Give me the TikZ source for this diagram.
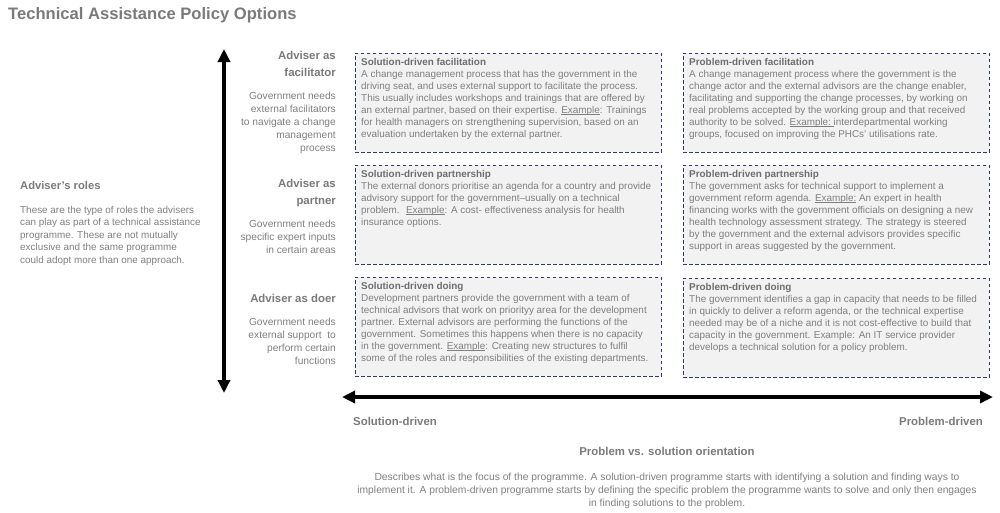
\documentclass[tikz,border=0pt]{standalone}
\usepackage{fontspec}
\setmainfont{Liberation Sans}
\usetikzlibrary{arrows.meta}
\definecolor{txt}{HTML}{7F7F7F}
\definecolor{head}{HTML}{6E6E6E}
\definecolor{title}{HTML}{7A7A7A}
\definecolor{boxfill}{HTML}{F2F2F2}
\definecolor{boxline}{HTML}{2F3C68}
\newcommand{\ul}[1]{\leavevmode\setbox0\hbox{#1}\rlap{\rule[-1.4pt]{\wd0}{0.5pt}}\box0\relax}
\begin{document}
\begin{tikzpicture}[x=1pt,y=-1pt,
  cell/.style={draw=boxline, dash pattern=on 3.5pt off 2.5pt, line width=0.9pt, fill=boxfill,
    minimum width=306pt, minimum height=99pt, inner sep=0pt, anchor=north west},
  celltext/.style={anchor=north west, align=left, inner sep=0pt, text=txt,
    font=\fontsize{9.9}{12}\selectfont},
  rolehead/.style={anchor=north east, align=right, inner sep=0pt, text=title,
    font=\fontsize{11.4}{17}\selectfont\bfseries},
  roletext/.style={anchor=north east, align=right, inner sep=0pt, text=txt,
    font=\fontsize{10.2}{13}\selectfont},
  bigarrow/.style={line width=3.5pt, {Triangle[length=13pt,width=12pt]}-{Triangle[length=13pt,width=12pt]}}
]
\useasboundingbox (0,0) rectangle (1000,512);

% title
\node[anchor=west, inner sep=0pt, text=title, font=\fontsize{16.6}{19}\selectfont\bfseries] (title) at (8,15) {Technical Assistance Policy Options};

% arrows
\coordinate (vtop) at (224,49);
\coordinate (vbot) at (224,393);
\draw[bigarrow] (vtop) -- (vbot);
\coordinate (hl) at (342,397);
\coordinate (hr) at (993,397);
\draw[bigarrow] (hl) -- (hr);

% left legend
\node[anchor=west, inner sep=0pt, text=title, font=\fontsize{11.2}{13}\selectfont\bfseries] (roles) at (20,185) {Adviser's roles};
\node[anchor=north west, align=left, inner sep=0pt, text=txt, font=\fontsize{9.9}{12.5}\selectfont] (rolesdesc) at (20,206)
{These are the type of roles the advisers\\can play as part of a technical assistance\\programme. These are not mutually\\exclusive and the same programme\\could adopt more than one approach.};

% role labels
\node[rolehead] (r1) at (336,51) {Adviser as\\facilitator};
\node[roletext] (r1t) at (336,92) {Government needs\\external facilitators\\to navigate a change\\management\\process};
\node[rolehead] (r2) at (336,179) {Adviser as\\partner};
\node[roletext] (r2t) at (336,220) {Government needs\\specific expert inputs\\in certain areas};
\node[rolehead] (r3) at (336,294) {Adviser as doer};
\node[roletext] (r3t) at (336,318) {Government needs\\external support~ to\\perform certain\\functions};

% cells
\node[cell] (b1) at (355,53) {};
\node[celltext] (t1) at ([xshift=6pt,yshift=-5pt]b1.north west)
{{\bfseries\color{head}Solution-driven facilitation}\\
A change management process that has the government in the\\
driving seat, and uses external support to facilitate the process.\\
This usually includes workshops and trainings that are offered by\\
an external partner, based on their expertise. \ul{Example}: Trainings\\
for health managers on strengthening supervision, based on an\\
evaluation undertaken by the external partner.};

\node[cell] (b2) at (683,53) {};
\node[celltext] (t2) at ([xshift=6pt,yshift=-5pt]b2.north west)
{{\bfseries\color{head}Problem-driven facilitation}\\
A change management process where the government is the\\
change actor and the external advisors are the change enabler,\\
facilitating and supporting the change processes, by working on\\
real problems accepted by the working group and that received\\
authority to be solved. \ul{Example:\ }interdepartmental working\\
groups, focused on improving the PHCs' utilisations rate.};

\node[cell] (b3) at (355,165) {};
\node[celltext] (t3) at ([xshift=6pt,yshift=-5pt]b3.north west)
{{\bfseries\color{head}Solution-driven partnership}\\
The external donors prioritise an agenda for a country and provide\\
advisory support for the government--usually on a technical\\
problem.~ \ul{Example}: A cost- effectiveness analysis for health\\
insurance options.};

\node[cell] (b4) at (683,165) {};
\node[celltext] (t4) at ([xshift=6pt,yshift=-5pt]b4.north west)
{{\bfseries\color{head}Problem-driven partnership}\\
The government asks for technical support to implement a\\
government reform agenda. \ul{Example:} An expert in health\\
financing works with the government officials on designing a new\\
health technology assessment strategy. The strategy is steered\\
by the government and the external advisors provides specific\\
support in areas suggested by the government.};

\node[cell] (b5) at (355,277) {};
\node[celltext] (t5) at ([xshift=6pt,yshift=-5pt]b5.north west)
{{\bfseries\color{head}Solution-driven doing}\\
Development partners provide the government with a team of\\
technical advisors that work on priorityy area for the development\\
partner. External advisors are performing the functions of the\\
government. Sometimes this happens when there is no capacity\\
in the government. \ul{Example}: Creating new structures to fulfil\\
some of the roles and responsibilities of the existing departments.};

\node[cell] (b6) at (683,278) {};
\node[celltext] (t6) at ([xshift=6pt,yshift=-5pt]b6.north west)
{{\bfseries\color{head}Problem-driven doing}\\
The government identifies a gap in capacity that needs to be filled\\
in quickly to deliver a reform agenda, or the technical expertise\\
needed may be of a niche and it is not cost-effective to build that\\
capacity in the government. Example: An IT service provider\\
develops a technical solution for a policy problem.};

% bottom axis labels
\node[anchor=west, inner sep=0pt, text=title, font=\fontsize{11.4}{13}\selectfont\bfseries] (sd) at (353,421) {Solution-driven};
\node[anchor=east, inner sep=0pt, text=title, font=\fontsize{11.4}{13}\selectfont\bfseries] (pd) at (983,421) {Problem-driven};
\node[inner sep=0pt, text=title, font=\fontsize{11.4}{13}\selectfont\bfseries] (orient) at (667,451) {Problem vs. solution orientation};
\node[anchor=north, align=center, inner sep=0pt, text=txt, font=\fontsize{10.3}{13}\selectfont] (odesc) at (667,473)
{Describes what is the focus of the programme. A solution-driven programme starts with identifying a solution and finding ways to\\
implement it. A problem-driven programme starts by defining the specific problem the programme wants to solve and only then engages\\
in finding solutions to the problem.};
\end{tikzpicture}
\end{document}
